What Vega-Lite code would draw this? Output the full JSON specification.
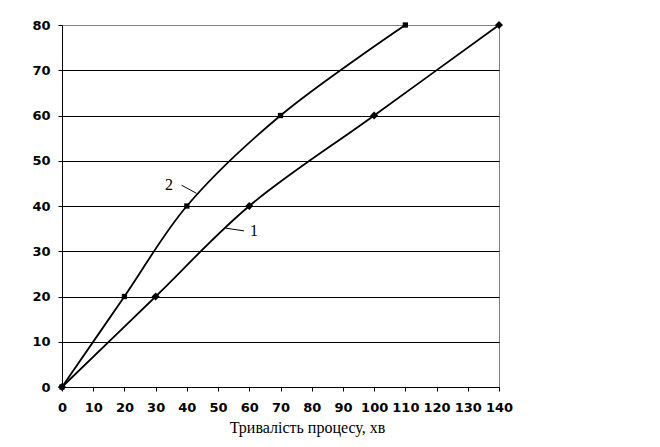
{
  "$schema": "https://vega.github.io/schema/vega-lite/v6.json",
  "width": 437,
  "height": 362,
  "autosize": "none",
  "padding": {"left": 62, "top": 25, "right": 161, "bottom": 60},
  "background": "white",
  "config": {
    "view": {"stroke": "#808080", "strokeWidth": 1}
  },
  "datasets": {
    "curves": [
      {"t": 0, "v": 0, "s": "1"},
      {"t": 30, "v": 20, "s": "1"},
      {"t": 60, "v": 40, "s": "1"},
      {"t": 100, "v": 60, "s": "1"},
      {"t": 140, "v": 80, "s": "1"},
      {"t": 0, "v": 0, "s": "2"},
      {"t": 20, "v": 20, "s": "2"},
      {"t": 40, "v": 40, "s": "2"},
      {"t": 70, "v": 60, "s": "2"},
      {"t": 110, "v": 80, "s": "2"}
    ],
    "leaders": [
      {"t": 38.3, "v": 44.6, "t2": 43.1, "v2": 42.8},
      {"t": 52.5, "v": 35.1, "t2": 58.3, "v2": 34.5}
    ],
    "texts": [
      {"t": 34.3, "v": 44.6, "txt": "2"},
      {"t": 61.5, "v": 34.5, "txt": "1"}
    ]
  },
  "encoding": {
    "x": {
      "field": "t", "type": "quantitative",
      "scale": {"domain": [0, 140], "nice": false},
      "axis": {
        "values": [0,10,20,30,40,50,60,70,80,90,100,110,120,130,140],
        "grid": false,
        "labelOverlap": false,
        "labelFlush": false,
        "labelFont": "DejaVu Sans",
        "labelFontWeight": "bold",
        "labelFontSize": 13,
        "labelColor": "black",
        "domainColor": "black",
        "tickColor": "black",
        "tickSize": 4,
        "labelPadding": 10,
        "title": "Тривалість процесу, хв",
        "titleFont": "Liberation Serif",
        "titleFontWeight": "normal",
        "titleFontSize": 16,
        "titleColor": "black",
        "titleX": 245,
        "titleY": 40,
        "titleBaseline": "middle"
      }
    },
    "y": {
      "field": "v", "type": "quantitative",
      "scale": {"domain": [0, 80], "nice": false},
      "axis": {
        "values": [0,10,20,30,40,50,60,70,80],
        "grid": true,
        "gridOpacity": 1,
        "gridColor": {"condition": {"test": "datum.value == 80", "value": "#808080"}, "value": "black"},
        "labelOverlap": false,
        "labelFlush": false,
        "labelFont": "DejaVu Sans",
        "labelFontWeight": "bold",
        "labelFontSize": 13,
        "labelColor": "black",
        "domainColor": "black",
        "tickColor": "black",
        "tickSize": 4,
        "labelPadding": 8,
        "title": null
      }
    }
  },
  "layer": [
    {
      "data": {"name": "curves"},
      "mark": {"type": "line", "interpolate": "catmull-rom", "color": "black", "strokeWidth": 1.8},
      "encoding": {
        "detail": {"field": "s"}
      }
    },
    {
      "data": {"name": "curves"},
      "transform": [{"filter": "datum.s == '1'"}],
      "mark": {"type": "point", "shape": "diamond", "filled": true, "color": "black", "size": 65, "opacity": 1}
    },
    {
      "data": {"name": "curves"},
      "transform": [{"filter": "datum.s == '2'"}],
      "mark": {"type": "point", "shape": "square", "filled": true, "color": "black", "size": 28, "opacity": 1}
    },
    {
      "data": {"name": "leaders"},
      "mark": {"type": "rule", "color": "black", "strokeWidth": 1},
      "encoding": {
        "x2": {"field": "t2"},
        "y2": {"field": "v2"}
      }
    },
    {
      "data": {"name": "texts"},
      "mark": {"type": "text", "font": "Liberation Serif", "fontSize": 16, "color": "black", "align": "center", "baseline": "middle"},
      "encoding": {
        "text": {"field": "txt"}
      }
    }
  ]
}
